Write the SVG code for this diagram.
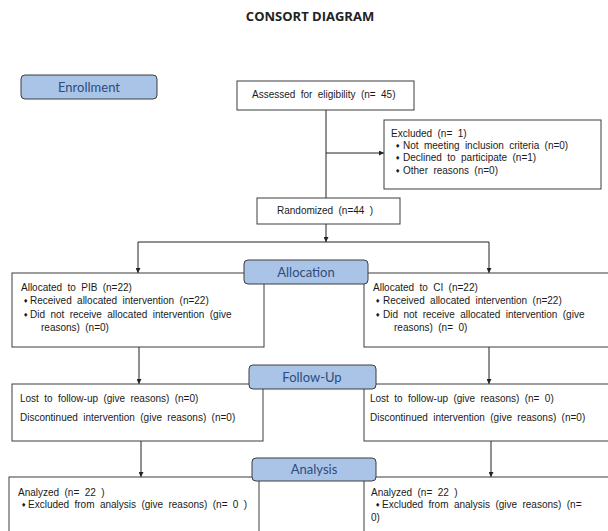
<svg xmlns="http://www.w3.org/2000/svg" width="608" height="531" viewBox="0 0 608 531">
<defs>
<marker id="ah" viewBox="0 0 10 10" refX="10" refY="5" markerWidth="5" markerHeight="5" orient="auto" markerUnits="userSpaceOnUse">
<path d="M0,0 L10,5 L0,10 Z" fill="#222"/>
</marker>
<style>
.box{fill:#fff;stroke:#3c3c3c;stroke-width:1}
.lbl{fill:#a9c4e7;stroke:#3c3c3c;stroke-width:1}
.lt{font-family:Lato,"Open Sans",sans-serif;font-size:13px;fill:#2e4c7d;text-anchor:middle}
.t{font-family:"Liberation Sans",Arial,sans-serif;font-size:10px;fill:#1a1a1a;word-spacing:2.6px}
.b{font-family:"DejaVu Sans",sans-serif;font-size:6px;fill:#1a1a1a}
.ln{stroke:#222;stroke-width:1;fill:none}
.title{font-family:"Open Sans",sans-serif;font-size:13px;font-weight:bold;fill:#222;text-anchor:middle}
</style>
</defs>
<rect width="608" height="531" fill="#fff"/>
<text class="title" x="310" y="21">CONSORT DIAGRAM</text>

<g id="connectors">
<line class="ln" x1="326" y1="110" x2="326" y2="198"/>
<line class="ln" x1="326" y1="153" x2="384" y2="153" marker-end="url(#ah)"/>
<line class="ln" x1="326" y1="224" x2="326" y2="242" marker-end="url(#ah)"/>
<line class="ln" x1="138" y1="242" x2="489" y2="242"/>
<line class="ln" x1="138" y1="242" x2="138" y2="273" marker-end="url(#ah)"/>
<line class="ln" x1="489" y1="242" x2="489" y2="273" marker-end="url(#ah)"/>
<line class="ln" x1="139" y1="347" x2="139" y2="384" marker-end="url(#ah)"/>
<line class="ln" x1="489" y1="347" x2="489" y2="384" marker-end="url(#ah)"/>
<line class="ln" x1="141" y1="441" x2="141" y2="477" marker-end="url(#ah)"/>
<line class="ln" x1="491" y1="441" x2="491" y2="477" marker-end="url(#ah)"/>
</g>

<g id="enrollment">
<rect class="lbl" x="21" y="75" width="136" height="24" rx="4"/>
<text class="lt" x="89" y="92">Enrollment</text>
</g>

<g id="assessed">
<rect class="box" x="237" y="81" width="177" height="29"/>
<text class="t" x="252" y="98">Assessed for eligibility (n= 45)</text>
</g>

<g id="excluded">
<rect class="box" x="384" y="120" width="217" height="69"/>
<text class="t" x="391" y="136.5">Excluded (n= 1)</text>
<text class="b" x="395" y="148">♦</text><text class="t" x="403" y="149">Not meeting inclusion criteria (n=0)</text>
<text class="b" x="395" y="160">♦</text><text class="t" x="403" y="161">Declined to participate (n=1)</text>
<text class="b" x="395" y="172.5">♦</text><text class="t" x="403" y="173.5">Other reasons (n=0)</text>
</g>

<g id="randomized">
<rect class="box" x="257" y="198" width="143" height="26"/>
<text class="t" x="277" y="214">Randomized (n=44 )</text>
</g>

<g id="alloc-pib">
<rect class="box" x="12" y="273" width="252" height="74"/>
<text class="t" x="21" y="290.5">Allocated to PIB (n=22)</text>
<text class="b" x="23" y="303">♦</text><text class="t" x="30" y="304">Received allocated intervention (n=22)</text>
<text class="b" x="23" y="316.5">♦</text><text class="t" x="30" y="317.5">Did not receive allocated intervention (give</text>
<text class="t" x="41" y="331">reasons) (n=0)</text>
</g>

<g id="alloc-ci">
<rect class="box" x="364" y="273" width="250" height="74"/>
<text class="t" x="373" y="290.5">Allocated to CI (n=22)</text>
<text class="b" x="375" y="303">♦</text><text class="t" x="383" y="304">Received allocated intervention (n=22)</text>
<text class="b" x="375" y="316.5">♦</text><text class="t" x="383" y="317.5">Did not receive allocated intervention (give</text>
<text class="t" x="394" y="331">reasons) (n= 0)</text>
</g>

<g id="allocation">
<rect class="lbl" x="244" y="260" width="124" height="24" rx="4"/>
<text class="lt" x="306" y="277">Allocation</text>
</g>

<g id="fu-left">
<rect class="box" x="12" y="384" width="251" height="57"/>
<text class="t" x="20" y="401.5">Lost to follow-up (give reasons) (n=0)</text>
<text class="t" x="20" y="420.5">Discontinued intervention (give reasons) (n=0)</text>
</g>

<g id="fu-right">
<rect class="box" x="364" y="384" width="250" height="57"/>
<text class="t" x="370" y="401.5">Lost to follow-up (give reasons) (n= 0)</text>
<text class="t" x="370" y="420.5">Discontinued intervention (give reasons) (n=0)</text>
</g>

<g id="followup">
<rect class="lbl" x="249" y="365" width="127" height="24" rx="4"/>
<text class="lt" x="312" y="382">Follow-Up</text>
</g>

<g id="an-left">
<rect class="box" x="9" y="477" width="250" height="60"/>
<text class="t" x="18" y="495.5">Analyzed (n= 22 )</text>
<text class="b" x="21" y="506.5">♦</text><text class="t" x="28" y="507.5">Excluded from analysis (give reasons) (n= 0 )</text>
</g>

<g id="an-right">
<rect class="box" x="364" y="477" width="250" height="60"/>
<text class="t" x="371" y="495.5">Analyzed (n= 22 )</text>
<text class="b" x="375" y="506.5">♦</text><text class="t" x="382" y="507.5">Excluded from analysis (give reasons) (n=</text>
<text class="t" x="371" y="520.5">0)</text>
</g>

<g id="analysis">
<rect class="lbl" x="252" y="458" width="124" height="23" rx="4"/>
<text class="lt" x="314" y="474">Analysis</text>
</g>
</svg>
